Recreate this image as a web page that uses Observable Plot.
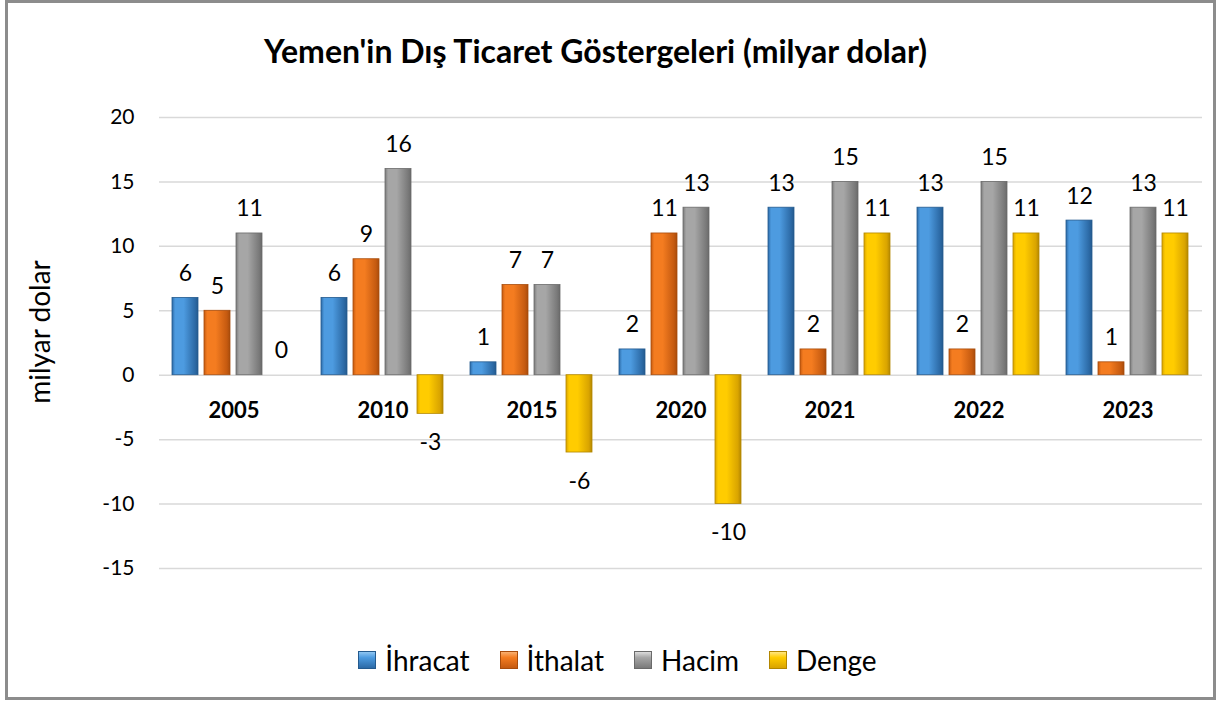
<!DOCTYPE html>
<html><head><meta charset="utf-8">
<script src="https://cdn.jsdelivr.net/npm/d3@7"></script>
<script src="https://cdn.jsdelivr.net/npm/@observablehq/plot@0.6"></script>
<style>
body{margin:0;background:#fff;font-family:Lato,"Open Sans",sans-serif;color:#000;}
#frame{position:absolute;left:5px;top:0;width:1205px;height:694px;border:3px solid #8c8c8c;background:#fff;}
#title{height:95px;display:flex;align-items:center;justify-content:center;font-weight:bold;font-size:32px;padding-right:30px;box-sizing:border-box;}
#chart svg{display:block;}
#legend{height:60px;display:flex;justify-content:center;align-items:center;font-size:28px;padding-left:14px;box-sizing:border-box;}
.item{display:flex;align-items:center;margin:0 15px;}
.sw{width:18px;height:18px;margin-right:9px;box-sizing:border-box;}
</style>
</head><body>
<div id="frame">
  <div id="title">Yemen'in Dış Ticaret Göstergeleri (milyar dolar)</div>
  <div id="chart"></div>
  <div id="legend"></div>
</div>
<script>
const years = ["2005","2010","2015","2020","2021","2022","2023"];
const seriesNames = ["İhracat","İthalat","Hacim","Denge"];
const ihracat = [6,6,1,2,13,13,12];
const ithalat = [5,9,7,11,2,2,1];
const hacim = [11,16,7,13,15,15,13];
const denge = [0,-3,-6,-10,11,11,11];
const yTicks = [-15,-10,-5,0,5,10,15,20];
const axisLabel = "milyar dolar";

const seriesValues = [ihracat, ithalat, hacim, denge];
const palette = {
  "İhracat": {id:"gIhr", edge:"#2c6aa6", mid:"#4d9be0", stroke:"#245a8e", light:"#8fc6f2"},
  "İthalat": {id:"gIth", edge:"#c55a10", mid:"#f47c20", stroke:"#a84c0c", light:"#f9b070"},
  "Hacim":   {id:"gHac", edge:"#7a7a7a", mid:"#a6a6a6", stroke:"#6a6a6a", light:"#dcdcdc"},
  "Denge":   {id:"gDen", edge:"#d9a400", mid:"#ffcc00", stroke:"#b38700", light:"#ffe680"}
};

const data = years.flatMap((yr, i) => seriesNames.map((s, j) => ({year: yr, series: s, value: seriesValues[j][i]})));

const barMarks = seriesNames.map(s => Plot.barY(data.filter(d => d.series === s), {
  fx: "year", x: "series", y: "value",
  fill: `url(#${palette[s].id})`, stroke: palette[s].stroke, strokeWidth: 0.8
}));

const chart = Plot.plot({
  width: 1205, height: 532,
  marginLeft: 148, marginRight: 8, marginTop: 19, marginBottom: 62,
  style: {fontFamily: "Lato, 'Open Sans', sans-serif", fontSize: "22px", color: "#000", background: "transparent"},
  fx: {domain: years, padding: 0, axis: null, label: null},
  x: {domain: seriesNames, paddingInner: 0.18, paddingOuter: 0.36, axis: null},
  y: {domain: [-15, 20], axis: null},
  marks: [
    Plot.gridY(yTicks, {stroke: "#d9d9d9", strokeOpacity: 1, strokeWidth: 1.5}),
    Plot.axisY(yTicks, {fx: () => years[0], tickSize: 0, tickPadding: 25, label: null, fontSize: 21, tickFormat: d => String(d)}),
    ...barMarks,
    Plot.text(data.filter(d => d.value >= 0), {fx: "year", x: "series", y: "value", text: d => String(d.value), lineAnchor: "bottom", dy: -17, fontSize: 23}),
    Plot.text(data.filter(d => d.value < 0), {fx: "year", x: "series", y: "value", text: d => String(d.value), lineAnchor: "top", dy: 20, fontSize: 23}),
    Plot.text(years, {fx: d => d, y: () => 0, dy: 36, text: d => d, fontWeight: "bold", fontSize: 22}),
    Plot.text([axisLabel], {fx: () => years[0], frameAnchor: "left", textAnchor: "middle", rotate: -90, dx: -118, dy: -11, fontSize: 28})
  ]
});

// gradients
const ns = "http://www.w3.org/2000/svg";
const defs = document.createElementNS(ns, "defs");
for (const s of seriesNames) {
  const p = palette[s];
  const g = document.createElementNS(ns, "linearGradient");
  g.setAttribute("id", p.id);
  g.setAttribute("x1", "0"); g.setAttribute("x2", "1"); g.setAttribute("y1", "0"); g.setAttribute("y2", "0");
  [[0, p.edge], [0.12, p.mid], [0.45, p.mid], [0.88, p.edge], [1, p.stroke]].forEach(([o, c]) => {
    const st = document.createElementNS(ns, "stop");
    st.setAttribute("offset", o); st.setAttribute("stop-color", c);
    g.appendChild(st);
  });
  defs.appendChild(g);
}
chart.insertBefore(defs, chart.firstChild);
document.getElementById("chart").appendChild(chart);

// legend
const legend = document.getElementById("legend");
for (const s of seriesNames) {
  const p = palette[s];
  const it = document.createElement("div"); it.className = "item";
  const sw = document.createElement("div"); sw.className = "sw";
  sw.style.background = `linear-gradient(180deg, ${p.light} 0%, ${p.mid} 35%, ${p.edge} 100%)`;
  sw.style.border = `1px solid ${p.stroke}`;
  const tx = document.createElement("span"); tx.textContent = s;
  it.appendChild(sw); it.appendChild(tx);
  legend.appendChild(it);
}
</script>
</body></html>
